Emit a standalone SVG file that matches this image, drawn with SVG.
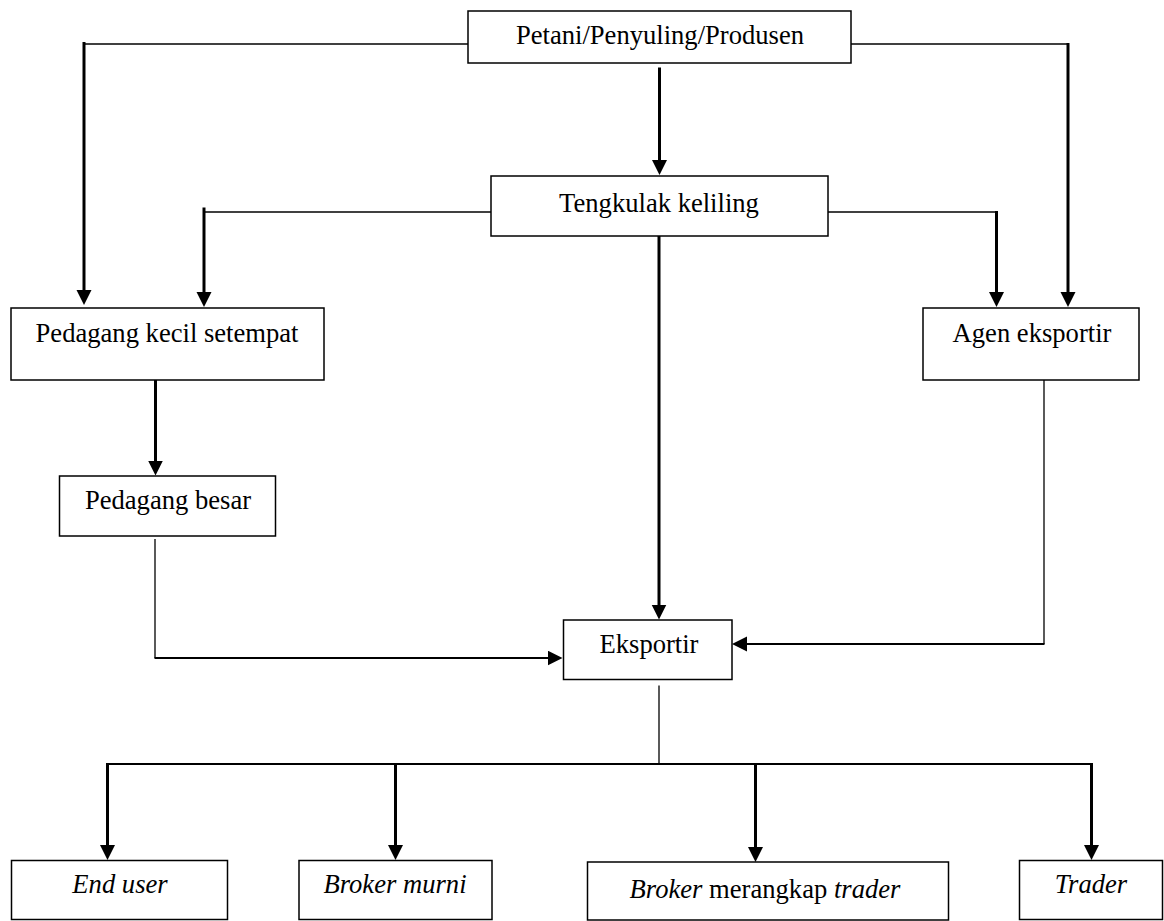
<svg xmlns="http://www.w3.org/2000/svg" width="1164" height="921" viewBox="0 0 1164 921">
<style>
  .box { fill: #ffffff; stroke: #000000; stroke-width: 1.5; }
  .lbl { font-family: "Liberation Serif", "Times New Roman", serif; font-size: 26.6px; fill: #000000; text-anchor: middle; }
  .it { font-style: italic; }
  .thin { fill: none; stroke: #000000; stroke-width: 1.3; }
  .mid { fill: none; stroke: #000000; stroke-width: 2; }
  .thick { fill: none; stroke: #000000; stroke-width: 3; }
</style>
<defs>
  <marker id="arr" markerUnits="userSpaceOnUse" markerWidth="16" markerHeight="16" refX="3" refY="7.5" orient="auto">
    <path d="M0,0 L15,7.5 L0,15 z" fill="#000000"/>
  </marker>
</defs>
<rect width="1164" height="921" fill="#ffffff"/>

<g id="connectors">
  <!-- Petani -> Pedagang kecil -->
  <path class="thin" d="M468,44 H84"/>
  <path class="thick" d="M84,42 V293" marker-end="url(#arr)"/>
  <!-- Tengkulak -> Pedagang kecil -->
  <path class="thin" d="M491,212 H204"/>
  <path class="thick" d="M204,207.5 V295" marker-end="url(#arr)"/>
  <!-- Petani -> Tengkulak -->
  <path class="thick" d="M659.5,67.5 V163" marker-end="url(#arr)"/>
  <!-- Petani -> Agen -->
  <path class="thin" d="M851,44 H1068"/>
  <path class="thick" d="M1068,43 V295" marker-end="url(#arr)"/>
  <!-- Tengkulak -> Agen -->
  <path class="thin" d="M828,212 H996.5"/>
  <path class="thick" d="M996.5,211 V295" marker-end="url(#arr)"/>
  <!-- Tengkulak -> Eksportir -->
  <path class="thick" d="M659,236 V607.5" marker-end="url(#arr)"/>
  <!-- Pedagang kecil -> Pedagang besar -->
  <path class="thick" d="M155.5,380 V463.5" marker-end="url(#arr)"/>
  <!-- Pedagang besar -> Eksportir -->
  <path class="thin" d="M155,539 V658"/>
  <path class="mid" d="M154.5,658 H550.5" marker-end="url(#arr)"/>
  <!-- Agen -> Eksportir -->
  <path class="thin" d="M1044,380 V644"/>
  <path class="mid" d="M1044.5,644 H744" marker-end="url(#arr)"/>
  <!-- Eksportir -> buyers -->
  <path class="thin" d="M659,685.5 V764"/>
  <path class="mid" d="M107.5,764 H1091.5"/>
  <path class="thick" d="M107.5,763 V848" marker-end="url(#arr)"/>
  <path class="thick" d="M395.5,763 V848" marker-end="url(#arr)"/>
  <path class="thick" d="M755.5,763 V850" marker-end="url(#arr)"/>
  <path class="thick" d="M1091.5,763 V848" marker-end="url(#arr)"/>
</g>

<g id="node-petani">
  <rect class="box" x="468" y="11" width="383" height="52"/>
  <text class="lbl" x="660" y="44">Petani/Penyuling/Produsen</text>
</g>
<g id="node-tengkulak">
  <rect class="box" x="491" y="176" width="337" height="60"/>
  <text class="lbl" x="659" y="212">Tengkulak keliling</text>
</g>
<g id="node-pedagang-kecil">
  <rect class="box" x="11" y="308" width="313" height="72"/>
  <text class="lbl" x="167" y="342">Pedagang kecil setempat</text>
</g>
<g id="node-agen">
  <rect class="box" x="923" y="308" width="216" height="72"/>
  <text class="lbl" x="1032" y="342">Agen eksportir</text>
</g>
<g id="node-pedagang-besar">
  <rect class="box" x="59.5" y="476" width="216" height="60"/>
  <text class="lbl" x="168" y="509">Pedagang besar</text>
</g>
<g id="node-eksportir">
  <rect class="box" x="563.5" y="620" width="168.5" height="59.5"/>
  <text class="lbl" x="649" y="653">Eksportir</text>
</g>
<g id="node-end-user">
  <rect class="box" x="11.5" y="860.5" width="216" height="59"/>
  <text class="lbl it" x="120" y="893">End user</text>
</g>
<g id="node-broker-murni">
  <rect class="box" x="299" y="860.5" width="193" height="59"/>
  <text class="lbl it" x="395" y="893">Broker murni</text>
</g>
<g id="node-broker-trader">
  <rect class="box" x="587.5" y="862" width="361" height="58"/>
  <text class="lbl" x="765" y="898"><tspan class="it">Broker</tspan> merangkap <tspan class="it">trader</tspan></text>
</g>
<g id="node-trader">
  <rect class="box" x="1019.5" y="860.5" width="143" height="59"/>
  <text class="lbl it" x="1091" y="893">Trader</text>
</g>
</svg>
